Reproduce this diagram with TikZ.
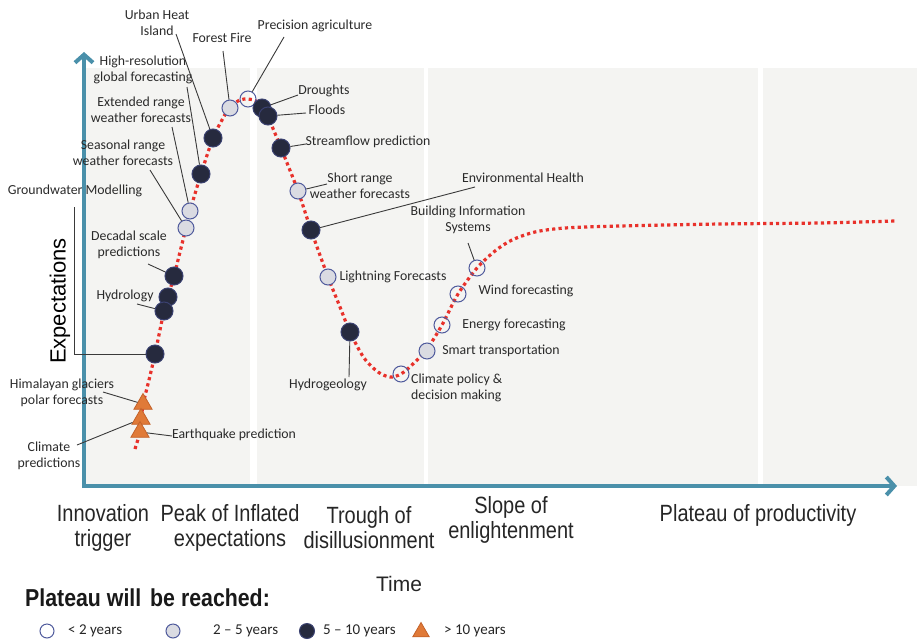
\documentclass[tikz,border=0pt]{standalone}
\usepackage{fontspec}
\setmainfont{Carlito}
\newfontfamily\arialfont{Liberation Sans}
\newfontfamily\phasefont{Liberation Sans}[FakeStretch=0.85]
\newfontfamily\legboldfont{Liberation Sans}[FakeStretch=0.87]
\usetikzlibrary{arrows.meta,shapes.geometric}
\definecolor{axisblue}{HTML}{4A90AA}
\definecolor{panelgray}{HTML}{F4F4F2}
\definecolor{dotred}{HTML}{E8312B}
\definecolor{rimblue}{HTML}{4F5A9C}
\definecolor{lightfill}{HTML}{DADBE2}
\definecolor{darkfill}{HTML}{262A3E}
\definecolor{darkrim}{HTML}{3A4170}
\definecolor{orangefill}{HTML}{E07A38}
\definecolor{orangerim}{HTML}{C4622A}
\definecolor{leadgray}{HTML}{3A3A3A}
\definecolor{txtgray}{HTML}{2A2A2A}
\begin{document}
\begin{tikzpicture}[x=1pt,y=-1pt,
  panel/.style={fill=panelgray,draw=none},
  axisline/.style={draw=axisblue,line width=4pt,line cap=butt,-{Straight Barb[length=8pt,width=18pt]}},
  hype/.style={draw=dotred,line width=3.2pt,dash pattern=on 3.2pt off 3.2pt},
  lead/.style={draw=leadgray,line width=0.9pt},
  opencirc/.style={circle,draw=rimblue,line width=1pt,minimum size=16pt,inner sep=0pt},
  graycirc/.style={opencirc,fill=lightfill},
  darkcirc/.style={circle,draw=darkrim,fill=darkfill,line width=1pt,minimum size=18pt,inner sep=0pt},
  tri/.style={regular polygon,regular polygon sides=3,fill=orangefill,draw=orangerim,line width=0.8pt,minimum size=21pt,inner sep=0pt},
  lbl/.style={font=\fontsize{13.8}{16}\selectfont,text=txtgray,inner sep=0pt,align=center},
  phase/.style={font=\phasefont\fontsize{23.5}{25}\selectfont,text=black!85,inner sep=0pt,align=center},
  legtxt/.style={font=\fontsize{15}{17}\selectfont,text=black!85,inner sep=0pt,anchor=west}
]
\useasboundingbox (0,0) rectangle (917,642);
% background panels
\fill[panel] (84,68) rectangle (250,486);
\fill[panel] (257,68) rectangle (424,486);
\fill[panel] (428,68) rectangle (758,486);
\fill[panel] (763,68) rectangle (917,486);
% axes
\coordinate (origin) at (84,486);
\coordinate (ytip) at (84,52);
\coordinate (xtip) at (897,486);
\draw[axisline] (84,488) -- (ytip);
\draw[axisline] (82,486) -- (xtip);
% hype curve
\draw[hype] plot[smooth,tension=0.5] coordinates {
 (135,449) (140,431) (143,405) (149,380) (155,354) (164,311) (168,297) (174,276)
 (180,252) (186,228) (190,211) (201,174) (213,138) (222,120) (230,107) (240,100)
 (248,99) (256,101) (262,108) (268,117) (281,148) (298,191) (311,230) (328,277)
 (340,307) (350,332) (364,358) (378,372) (390,377) (401,374) (414,363) (427,349)
 (442,325) (458,294) (477,268) (495,251) (512,240) (535,232) (565,228) (620,226)
 (720,224) (820,223) (895,221)};
% markers
\node[tri] (hg) at (143,404) {};
\node[tri] (cp) at (141,419) {};
\node[tri] (eq) at (140,432) {};
\node[darkcirc] (ex1) at (155,354) {};
\node[darkcirc] (hy2) at (168,297) {};
\node[darkcirc] (hy) at (164,311) {};
\node[darkcirc] (ds) at (174,276) {};
\node[graycirc] (er) at (190,211) {};
\node[graycirc] (sr) at (186,228) {};
\node[darkcirc] (hr) at (201,174) {};
\node[darkcirc] (uhi) at (213,138) {};
\node[graycirc] (ff) at (230,108) {};
\node[opencirc] (pa) at (248,99) {};
\node[darkcirc] (dr) at (262,108) {};
\node[darkcirc] (fl) at (268,116) {};
\node[darkcirc] (sf) at (281,148) {};
\node[graycirc] (sh) at (298,191) {};
\node[darkcirc] (eh) at (311,230) {};
\node[graycirc] (lf) at (328,277) {};
\node[darkcirc] (hd) at (350,332) {};
\node[opencirc] (cd) at (401,374) {};
\node[graycirc] (st) at (427,351) {};
\node[opencirc] (ef) at (442,325) {};
\node[opencirc] (wf) at (458,294) {};
\node[opencirc] (bi) at (477,268) {};
% labels
\node[lbl] (uhiL) at (157,23) {Urban Heat\\Island};
\node[lbl] (ffL) at (222,38) {Forest Fire};
\node[lbl] (paL) at (315,26) {Precision agriculture};
\node[lbl] (hrL) at (143,70) {High-resolution\\global forecasting};
\node[lbl] (erL) at (141,110) {Extended range\\weather forecasts};
\node[lbl] (srL) at (123,153) {Seasonal range\\weather forecasts};
\node[lbl] (gwL) at (75,191) {Groundwater Modelling};
\node[lbl] (dsL) at (129,245) {Decadal scale\\predictions};
\node[lbl] (hyL) at (125,296) {Hydrology};
\node[lbl] (hgL) at (62,393) {Himalayan glaciers\\polar forecasts};
\node[lbl] (cpL) at (49,456) {Climate\\predictions};
\node[lbl] (eqL) at (234,435) {Earthquake prediction};
\node[lbl] (drL) at (324,91) {Droughts};
\node[lbl] (flL) at (327,110) {Floods};
\node[lbl] (sfL) at (368,142) {Streamflow prediction};
\node[lbl] (shL) at (360,186) {Short range\\weather forecasts};
\node[lbl] (ehL) at (523,178) {Environmental Health};
\node[lbl] (biL) at (468,220) {Building Information\\Systems};
\node[lbl] (lfL) at (393,277) {Lightning Forecasts};
\node[lbl] (wfL) at (526,291) {Wind forecasting};
\node[lbl] (efL) at (514,325) {Energy forecasting};
\node[lbl] (stL) at (501,351) {Smart transportation};
\node[lbl,anchor=west,align=left] (cdL) at (411,388) {Climate policy \&\\decision making};
\node[lbl] (hdL) at (328,385) {Hydrogeology};
% leader start points
\coordinate (uhiS) at (176,34);
\coordinate (ffS) at (223,51);
\coordinate (paS) at (284,37);
\coordinate (hrS) at (187,87);
\coordinate (erS) at (172,127);
\coordinate (srS) at (150,170);
\coordinate (dsS) at (148,264);
\coordinate (hyS) at (137,304);
\coordinate (hgS) at (103,392);
\coordinate (cpS) at (77,445);
\coordinate (eqS) at (172,436);
\coordinate (drS) at (298,95);
\coordinate (flS) at (306,113);
\coordinate (sfS) at (306,144);
\coordinate (shS) at (327,184);
\coordinate (ehS) at (475,187);
\coordinate (biS) at (468,243);
\coordinate (hdS) at (349,377);
\coordinate (bk) at (74,207);
% leaders
\draw[lead] (uhiS) -- (uhi);
\draw[lead] (ffS) -- (ff);
\draw[lead] (paS) -- (pa);
\draw[lead] (hrS) -- (hr);
\draw[lead] (erS) -- (er);
\draw[lead] (srS) -- (sr);
\draw[lead] (dsS) -- (ds);
\draw[lead] (hyS) -- (hy);
\draw[lead] (hgS) -- (hg);
\draw[lead] (cpS) -- (cp);
\draw[lead] (eqS) -- (eq);
\draw[lead] (drS) -- (dr);
\draw[lead] (flS) -- (fl);
\draw[lead] (sfS) -- (sf);
\draw[lead] (shS) -- (sh);
\draw[lead] (ehS) -- (eh);
\draw[lead] (biS) -- (bi);
\draw[lead] (hdS) -- (hd);
\draw[lead] (bk) |- (ex1);
% axis titles
\node[font=\arialfont\fontsize{22}{24}\selectfont,rotate=90,inner sep=0pt] (ylab) at (60,301) {Expectations};
\node[phase] (p1) at (103,528) {Innovation\\trigger};
\node[phase] (p2) at (230,528) {Peak of Inflated\\expectations};
\node[phase] (p3) at (369,528) {Trough of\\disillusionment};
\node[phase] (p4) at (511,520) {Slope of\\enlightenment};
\node[phase] (p5) at (758,515) {Plateau of productivity};
\node[font=\arialfont\fontsize{21}{23}\selectfont,text=black!85,inner sep=0pt] (xlab) at (399,584) {Time};
% legend
\node[font=\legboldfont\bfseries\fontsize{24.5}{26}\selectfont,text=black!90,inner sep=0pt,anchor=west] (legT) at (25,598) {Plateau will\hspace{3pt} be reached:};
\node[opencirc,minimum size=14pt] (lg1) at (47,631) {};
\node[legtxt] (lg1t) at (68,631) {< 2 years};
\node[graycirc,minimum size=14pt] (lg2) at (173,631) {};
\node[legtxt] (lg2t) at (213,631) {2 – 5 years};
\node[darkcirc,minimum size=15pt] (lg3) at (307,631) {};
\node[legtxt] (lg3t) at (323,631) {5 – 10 years};
\node[tri,minimum size=19pt] (lg4) at (421,632) {};
\node[legtxt] (lg4t) at (444,631) {> 10 years};
\end{tikzpicture}
\end{document}
